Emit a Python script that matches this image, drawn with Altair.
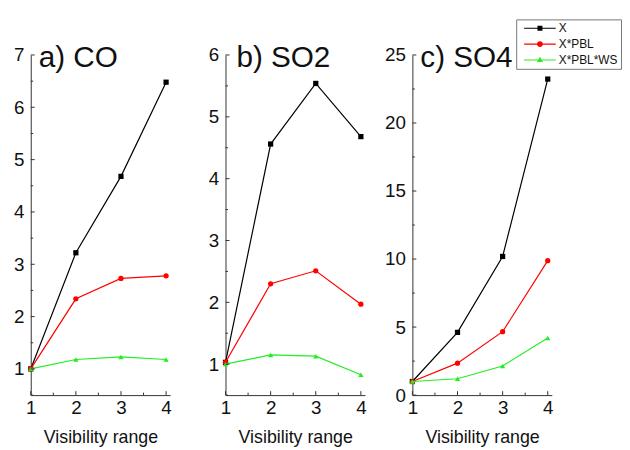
import altair as alt
import pandas as pd

# ---- data ----
series = ["X", "X*PBL", "X*PBL*WS"]
visibility = [1, 2, 3, 4]

co_x = [1.0, 3.22, 4.68, 6.48]
co_pbl = [1.0, 2.34, 2.73, 2.78]
co_ws = [1.0, 1.18, 1.23, 1.18]

so2_x = [1.03, 4.56, 5.54, 4.68]
so2_pbl = [1.03, 2.30, 2.51, 1.97]
so2_ws = [1.0, 1.15, 1.13, 0.83]

so4_x = [1.0, 4.61, 10.19, 23.23]
so4_pbl = [1.0, 2.35, 4.66, 9.88]
so4_ws = [1.0, 1.2, 2.14, 4.2]

panel_titles = ["a) CO", "b) SO2", "c) SO4"]
x_major = [1, 2, 3, 4]
x_minor = [1.5, 2.5, 3.5]
y_major_co = [1, 2, 3, 4, 5, 6, 7]
y_minor_co = [0.5, 1.5, 2.5, 3.5, 4.5, 5.5, 6.5]
y_major_so2 = [1, 2, 3, 4, 5, 6]
y_minor_so2 = [0.5, 1.5, 2.5, 3.5, 4.5, 5.5]
y_major_so4 = [0, 5, 10, 15, 20, 25]
y_minor_so4 = [2.5, 7.5, 12.5, 17.5, 22.5]

colors = ["#000000", "#ff0000", "#22ee22"]
shapes = ["square", "circle", "triangle-up"]

FONT = "Liberation Sans"
AXC = "#333333"
W, H = 141, 344


def make_df(vals):
    rows = []
    for s, v in zip(series, vals):
        for xv, yv in zip(visibility, v):
            rows.append({"series": s, "vis": xv, "val": yv})
    return pd.DataFrame(rows)


# legend symbols: line - marker - line
line_p = "M-3.2,-0.11H3.2V0.11H-3.2Z "
legend_paths = [
    line_p + "M-0.5,-0.5H0.5V0.5H-0.5Z",
    line_p + "M-0.6,0A0.6,0.6,0,1,1,0.6,0A0.6,0.6,0,1,1,-0.6,0Z",
    line_p + "M0,-0.65L0.6,0.4L-0.6,0.4Z",
]

legend = alt.Legend(
    orient="none", legendX=491, legendY=-36, title=None,
    labelFontSize=12, labelFont=FONT, labelColor="#111",
    symbolSize=100, symbolOffset=15, labelOffset=13, rowPadding=4,
    padding=3, strokeColor="#777", fillColor="white",
    symbolStrokeWidth=0, symbolOpacity=1,
)


def panel(vals, title, domain, ymaj, ymin, title_dx, with_legend):
    df = make_df(vals)
    xs = alt.Scale(domain=[1, 4.09], nice=False, zero=False)
    ys = alt.Scale(domain=domain, nice=False, zero=False)
    xaxis = alt.Axis(
        values=x_major, ticks=False, labelPadding=4, labelFontSize=19, labelFont=FONT,
        labelColor="#111", labelFlush=False, labelOverlap=False,
        title="Visibility range", titleFontSize=18, titleFont=FONT,
        titleFontWeight="normal", titleColor="#111", titlePadding=11,
        grid=False, domainColor=AXC,
    )
    yaxis = alt.Axis(
        values=ymaj, ticks=False, labelPadding=7, labelFontSize=19, labelFont=FONT,
        labelColor="#111", labelFlush=False, labelOverlap=False,
        title=None, grid=False, domainColor=AXC,
    )
    base = alt.Chart(df).encode(
        x=alt.X("vis:Q", scale=xs, axis=xaxis),
        y=alt.Y("val:Q", scale=ys, axis=yaxis),
    )
    layers = []
    for s, c, shp in zip(series, colors, shapes):
        sub = base.transform_filter(alt.datum.series == s)
        layers.append(sub.mark_line(strokeWidth=1.2, color=c))
        layers.append(sub.mark_point(filled=True, size=28, opacity=1, shape=shp, color=c))

    # inward ticks
    def yticks(vals_, length):
        return alt.Chart(pd.DataFrame({"v": vals_})).mark_rule(color=AXC, strokeWidth=1).encode(
            y=alt.Y("v:Q", scale=ys, axis=yaxis), x=alt.value(0), x2=alt.value(length)
        )

    def xticks(vals_, length):
        return alt.Chart(pd.DataFrame({"v": vals_})).mark_rule(color=AXC, strokeWidth=1).encode(
            x=alt.X("v:Q", scale=xs, axis=xaxis), y=alt.value(H), y2=alt.value(H - length)
        )

    layers += [yticks(ymaj, 4), yticks(ymin, 2.5), xticks(x_major, 4), xticks(x_minor, 2.5)]
    layers.append(
        alt.Chart(pd.DataFrame({"t": [title]})).mark_text(
            align="left", baseline="alphabetic", fontSize=30, font=FONT, color="#111"
        ).encode(x=alt.value(title_dx), y=alt.value(12), text="t:N")
    )
    if with_legend:
        layers.append(
            alt.Chart(df).transform_filter("false").mark_point(filled=True, opacity=1).encode(
                color=alt.Color("series:N", scale=alt.Scale(domain=series, range=colors),
                                sort=series, legend=legend),
                shape=alt.Shape("series:N", scale=alt.Scale(domain=series, range=legend_paths),
                                sort=series, legend=legend),
            )
        )
    return alt.layer(*layers).properties(width=W, height=H)


pa = panel([co_x, co_pbl, co_ws], panel_titles[0], [0.5, 7], y_major_co, y_minor_co, 8, False)
pb = panel([so2_x, so2_pbl, so2_ws], panel_titles[1], [0.5, 6], y_major_so2, y_minor_so2, 11, False)
pc = panel([so4_x, so4_pbl, so4_ws], panel_titles[2], [0, 25], y_major_so4, y_minor_so4, 8, True)

chart = alt.hconcat(alt.hconcat(pa, pb, spacing=36), pc, spacing=17).properties(
    padding={"left": 5, "top": 8, "right": 0, "bottom": 0}
).configure_view(stroke=None)

chart.save("out.html", embed_options={"renderer": "svg", "actions": False})
